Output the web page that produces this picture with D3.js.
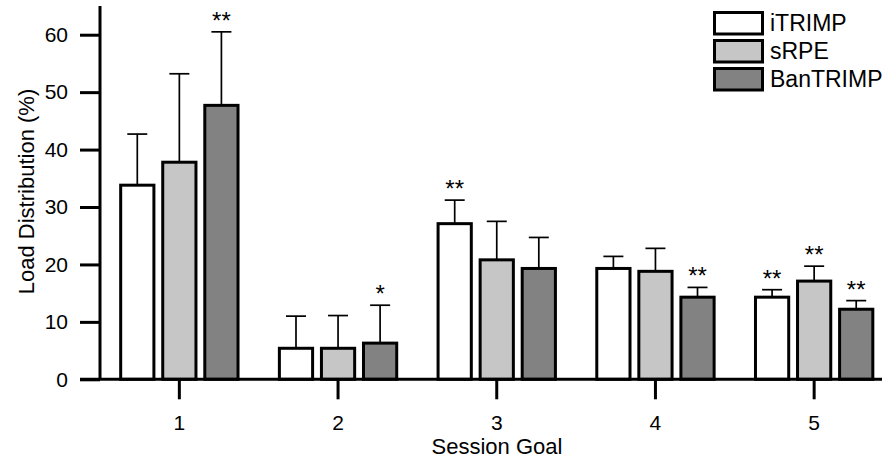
<!DOCTYPE html>
<html>
<head>
<meta charset="utf-8">
<script src="https://cdn.jsdelivr.net/npm/d3@7"></script>
<style>
  html, body { margin: 0; padding: 0; background: #fff; }
  svg { display: block; font-family: "Liberation Sans", Arial, sans-serif; }
</style>
</head>
<body>
<svg id="chart" width="882" height="463"></svg>
<script>
// Session goals on the x axis
const goals = ["1", "2", "3", "4", "5"];
// Load quantification methods
const methods = ["iTRIMP", "sRPE", "BanTRIMP"];
// Mean load distribution (%) per goal, one array per method
const iTRIMP = [33.8, 5.4, 27.1, 19.3, 14.3];
const sRPE = [37.8, 5.4, 20.8, 18.8, 17.1];
const BanTRIMP = [47.7, 6.3, 19.3, 14.3, 12.2];
// Standard deviations (upper error bars)
const iTRIMP_sd = [8.9, 5.6, 4.1, 2.1, 1.3];
const sRPE_sd = [15.4, 5.7, 6.7, 4.0, 2.6];
const BanTRIMP_sd = [12.8, 6.6, 5.4, 1.7, 1.5];
// Significance markers
const iTRIMP_sig = ["", "", "**", "", "**"];
const sRPE_sig = ["", "", "", "", "**"];
const BanTRIMP_sig = ["**", "*", "", "**", "**"];
const yTicks = [0, 10, 20, 30, 40, 50, 60];
const fills = ["#ffffff", "#c6c6c6", "#828282"];

const means = [iTRIMP, sRPE, BanTRIMP];
const sds = [iTRIMP_sd, sRPE_sd, BanTRIMP_sd];
const sigs = [iTRIMP_sig, sRPE_sig, BanTRIMP_sig];

const rows = [];
goals.forEach((g, gi) => {
  methods.forEach((m, mi) => {
    rows.push({ goal: g, method: m, mi, value: means[mi][gi], sd: sds[mi][gi], sig: sigs[mi][gi] });
  });
});

const svg = d3.select("#chart");

const x0 = d3.scaleBand().domain(goals).range([100, 893.5]).padding(0);
const x1 = d3.scaleBand().domain(methods).range([0, 135]).padding(0.21);
const groupOffset = (x0.bandwidth() - 135) / 2;
const y = d3.scaleLinear().domain([0, 65]).range([379.3, 6]);

// Bars
const barX = d => x0(d.goal) + groupOffset + x1(d.method);
const barCx = d => barX(d) + x1.bandwidth() / 2;

// Error bars (upper only)
const err = svg.append("g").attr("stroke", "#000").attr("stroke-width", 1.7);
err.selectAll("line.v").data(rows).join("line")
  .attr("x1", barCx).attr("x2", barCx)
  .attr("y1", d => y(d.value)).attr("y2", d => y(d.value + d.sd));
err.selectAll("line.c").data(rows).join("line")
  .attr("x1", d => barCx(d) - 10).attr("x2", d => barCx(d) + 10)
  .attr("y1", d => y(d.value + d.sd)).attr("y2", d => y(d.value + d.sd));

svg.append("g").selectAll("rect").data(rows).join("rect")
  .attr("x", barX)
  .attr("width", x1.bandwidth())
  .attr("y", d => y(d.value))
  .attr("height", d => y(0) - y(d.value))
  .attr("fill", d => fills[d.mi])
  .attr("stroke", "#000")
  .attr("stroke-width", 3);

// Significance stars
svg.append("g").selectAll("text").data(rows.filter(d => d.sig)).join("text")
  .attr("x", barCx)
  .attr("y", d => y(d.value + d.sd) - 3)
  .attr("text-anchor", "middle")
  .attr("font-size", 24)
  .text(d => d.sig);

// Y axis
const yAxis = svg.append("g").attr("transform", "translate(100,0)")
  .call(d3.axisLeft(y).tickValues(yTicks).tickSize(20).tickPadding(12));
yAxis.select(".domain").attr("d", `M0,${y(65)}V${y(0)}`);
yAxis.selectAll("line, path").attr("stroke", "#000").attr("stroke-width", 3);
yAxis.selectAll("text").attr("font-size", 21).attr("fill", "#000")
  .attr("font-family", "Liberation Sans, Arial, sans-serif");

// X axis
const xAxis = svg.append("g").attr("transform", `translate(0,${y(0)})`)
  .call(d3.axisBottom(x0).tickSize(20).tickPadding(16));
xAxis.select(".domain").attr("d", "M80,0H882");
xAxis.selectAll("line, path").attr("stroke", "#000").attr("stroke-width", 3);
xAxis.selectAll("text").attr("font-size", 21).attr("fill", "#000")
  .attr("font-family", "Liberation Sans, Arial, sans-serif");

// Axis titles
svg.append("text")
  .attr("x", 497).attr("y", 454)
  .attr("text-anchor", "middle").attr("font-size", 22)
  .text("Session Goal");
svg.append("text")
  .attr("transform", "translate(34,191.5) rotate(-90)")
  .attr("text-anchor", "middle").attr("font-size", 22)
  .text("Load Distribution (%)");

// Legend
const legend = svg.append("g");
methods.forEach((m, i) => {
  const top = 12.5 + i * 28;
  legend.append("rect")
    .attr("x", 714.5).attr("y", top).attr("width", 48).attr("height", 21.5)
    .attr("fill", fills[i]).attr("stroke", "#000").attr("stroke-width", 3);
  legend.append("text")
    .attr("x", 770).attr("y", top + 18.5)
    .attr("font-size", 23)
    .text(m);
});
</script>
</body>
</html>
